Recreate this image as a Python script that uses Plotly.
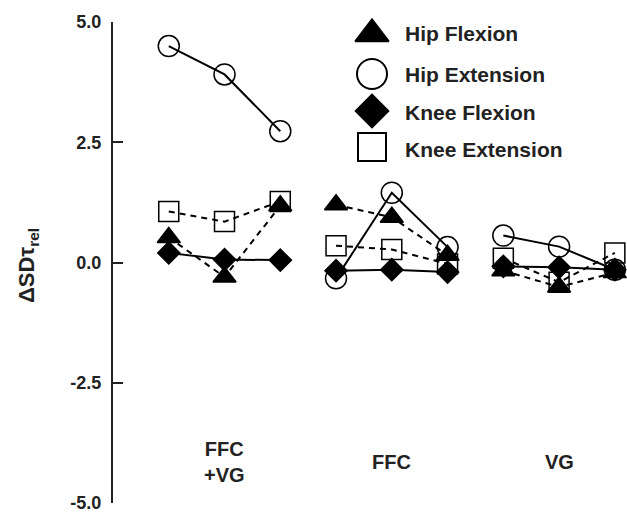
import plotly.graph_objects as go

# ---------------- data ----------------
groups = ["FFC<br>+VG", "FFC", "VG"]
x_pos = [0, 1, 2, 3, 4, 5, 6, 7, 8]          # three conditions per group
hip_flexion = [0.52, -0.30, 1.18, 1.20, 0.94, 0.15, -0.17, -0.51, -0.21]
hip_extension = [4.50, 3.91, 2.73, -0.33, 1.45, 0.32, 0.56, 0.33, -0.15]
knee_flexion = [0.20, 0.06, 0.05, -0.17, -0.15, -0.20, -0.08, -0.10, -0.15]
knee_extension = [1.06, 0.85, 1.27, 0.35, 0.27, -0.03, 0.09, -0.41, 0.20]
y_ticks = [-5.0, -2.5, 0.0, 2.5, 5.0]
series_names = ["Hip Flexion", "Hip Extension", "Knee Flexion", "Knee Extension"]

# ---------------- layout constants ----------------
W, H = 627, 513
FONT = "Liberation Sans, Arial, Helvetica, sans-serif"
ax_left, ax_right, ax_top, ax_bottom = 113, 626, 22, 503

styles = {
    "Hip Flexion": dict(symbol="triangle-up", size=20, dash="6px,5px"),
    "Hip Extension": dict(symbol="circle-open", size=21, dash="solid"),
    "Knee Flexion": dict(symbol="diamond", size=17, dash="solid"),
    "Knee Extension": dict(symbol="square-open", size=20, dash="6px,5px"),
}
values = {
    "Hip Flexion": hip_flexion,
    "Hip Extension": hip_extension,
    "Knee Flexion": knee_flexion,
    "Knee Extension": knee_extension,
}


def segmented(xs, ys):
    """insert gaps between the three groups"""
    ox, oy = [], []
    for i, (a, b) in enumerate(zip(xs, ys)):
        if i and i % 3 == 0:
            ox.append(None)
            oy.append(None)
        ox.append(a)
        oy.append(b)
    return ox, oy


fig = go.Figure()
for name in series_names:
    st = styles[name]
    sx, sy = segmented(x_pos, values[name])
    fig.add_trace(go.Scatter(
        x=sx, y=sy, mode="lines+markers", name=name, showlegend=False,
        line=dict(color="black", width=2, dash=st["dash"]),
        marker=dict(symbol=st["symbol"], size=st["size"], color="black",
                    line=dict(color="black", width=1.5)),
        connectgaps=False, cliponaxis=False,
    ))

# ---------------- hand-made legend (overlay axes in pixel units) ----------------
leg_marker_x = 372
leg_marker_y = [34, 74, 111, 147]
leg_text_y = [33, 74, 112, 149]
leg_sizes = {"Hip Flexion": 29, "Hip Extension": 30, "Knee Flexion": 25, "Knee Extension": 28}
for name, my in zip(series_names, leg_marker_y):
    st = styles[name]
    fig.add_trace(go.Scatter(
        x=[leg_marker_x], y=[my], mode="markers", xaxis="x2", yaxis="y2",
        showlegend=False, hoverinfo="skip",
        marker=dict(symbol=st["symbol"], size=leg_sizes[name], color="black",
                    line=dict(color="black", width=2)),
    ))

annotations = []
for name, ty in zip(series_names, leg_text_y):
    annotations.append(dict(
        x=403, y=ty, xref="x2", yref="y2", text=name, showarrow=False,
        xanchor="left", yanchor="middle",
        font=dict(family=FONT, size=21, color="#222", weight="bold"),
    ))

# group labels
for g, gx in zip(groups, [1, 4, 7]):
    annotations.append(dict(
        x=gx, y=-4.15, xref="x", yref="y", text=g, showarrow=False,
        xanchor="center", yanchor="middle",
        font=dict(family=FONT, size=20, color="#222", weight="bold"),
    ))

# y-axis title
annotations.append(dict(
    x=28, y=266, xref="x2", yref="y2", text="ΔSDτ<sub>rel</sub>", showarrow=False,
    textangle=-90, xanchor="center", yanchor="middle",
    font=dict(family=FONT, size=22, color="#222", weight="bold"),
))

fig.update_layout(
    width=W, height=H,
    margin=dict(l=0, r=0, t=0, b=0, pad=0),
    paper_bgcolor="white", plot_bgcolor="rgba(0,0,0,0)",
    showlegend=False,
    annotations=annotations,
    xaxis=dict(
        domain=[ax_left / W, ax_right / W], range=[-1.0, 8.2], autorange=False,
        visible=False, showgrid=False, zeroline=False, automargin=False,
    ),
    yaxis=dict(
        domain=[(H - ax_bottom) / H, (H - ax_top) / H], range=[-5, 5], autorange=False,
        tickmode="array", tickvals=y_ticks, ticktext=[f"{v:.1f}" for v in y_ticks],
        ticks="inside", ticklen=10, tickwidth=2, tickcolor="#222",
        showline=True, linecolor="#222", linewidth=2,
        showgrid=False, zeroline=False, automargin=False,
        tickfont=dict(family=FONT, size=18, color="#222", weight="bold"),
        ticklabelstandoff=6, ticklabeloverflow="allow",
    ),
    xaxis2=dict(domain=[0, 1], range=[0, W], autorange=False, visible=False,
                anchor="y2", fixedrange=True, automargin=False),
    yaxis2=dict(domain=[0, 1], range=[H, 0], autorange=False, visible=False,
                anchor="x2", fixedrange=True, automargin=False),
)

fig.write_html("out.html")
